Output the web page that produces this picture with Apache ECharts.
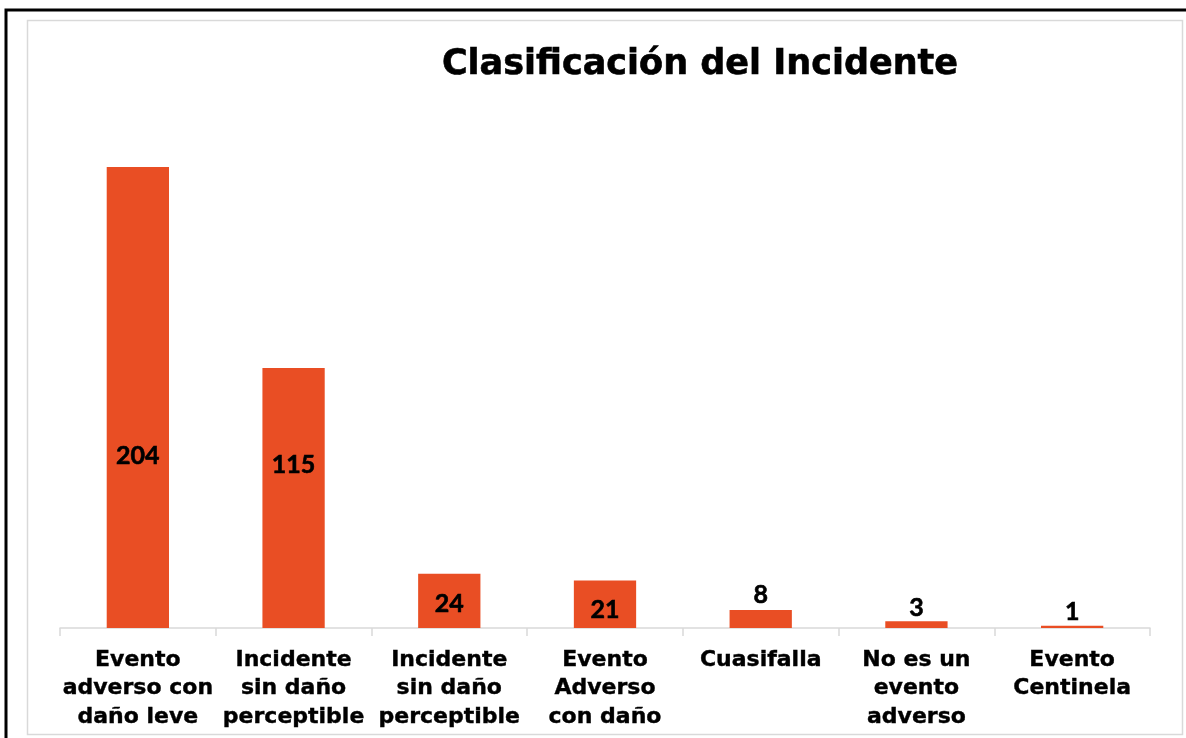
<!DOCTYPE html>
<html>
<head>
<meta charset="utf-8">
<script src="https://cdn.jsdelivr.net/npm/echarts@6/dist/echarts.min.js"></script>
<style>
  html, body { margin: 0; padding: 0; background: #fff; }
  #chart { width: 1186px; height: 738px; }
</style>
</head>
<body>
<div id="chart"></div>
<script>
// datos del gráfico
var categorias = [
  "Evento\nadverso con\ndaño leve",
  "Incidente\nsin daño\nperceptible",
  "Incidente\nsin daño\nperceptible",
  "Evento\nAdverso\ncon daño",
  "Cuasifalla",
  "No es un\nevento\nadverso",
  "Evento\nCentinela"
];
var casos = [204, 115, 24, 21, 8, 3, 1];

var chart = echarts.init(document.getElementById("chart"));

// ajuste manual de las etiquetas (como en el original)
var ajusteEtiqueta = [
  { position: "inside", offset: [0, 58] },
  { position: "inside", offset: [0, -33] },
  { position: "inside", offset: [0, 3] },
  { position: "inside", offset: [0, 6] },
  { position: "top", offset: [0, 3] },
  { position: "top", offset: [0, 4] },
  { position: "top", offset: [0, 4] }
];

var datosBarras = casos.map(function (v, i) {
  return { value: v, label: ajusteEtiqueta[i] };
});

var option = {
  backgroundColor: "#fff",
  animation: false,
  title: {
    text: "Clasificación del Incidente",
    left: 695,
    top: 42,
    textAlign: "center",
    textStyle: {
      fontFamily: "DejaVu Sans",
      fontWeight: "bold",
      fontSize: 35,
      color: "#000",
      textBorderColor: "#000",
      textBorderWidth: 0.6
    }
  },
  graphic: [
    {
      type: "rect",
      shape: { x: 27.5, y: 20.5, width: 1155, height: 714 },
      style: { fill: null, stroke: "#d9d9d9", lineWidth: 1.5 },
      silent: true
    },
    {
      type: "polyline",
      shape: { points: [[6, 738], [6, 10], [1186, 10]] },
      style: { fill: null, stroke: "#000", lineWidth: 3 },
      silent: true
    }
  ],
  grid: {
    left: 60,
    right: 36,
    top: 63,
    bottom: 110,
    containLabel: false
  },
  xAxis: {
    type: "category",
    data: categorias,
    boundaryGap: true,
    axisLine: { show: true, lineStyle: { color: "#d9d9d9", width: 1.5 } },
    axisTick: { show: true, length: 8, lineStyle: { color: "#d9d9d9", width: 1.5 } },
    axisLabel: {
      interval: 0,
      margin: 18,
      color: "#000",
      fontFamily: "DejaVu Sans",
      fontWeight: "bold",
      fontSize: 22,
      lineHeight: 28.5,
      verticalAlign: "top",
      textBorderColor: "#000",
      textBorderWidth: 0.4
    }
  },
  yAxis: {
    type: "value",
    min: 0,
    max: 250,
    show: false,
    splitLine: { show: false }
  },
  series: [
    {
      type: "bar",
      barWidth: "40%",
      data: datosBarras,
      itemStyle: { color: "#e94e24" },
      label: {
        show: true,
        color: "#000",
        fontFamily: "Lato",
        fontWeight: "bold",
        fontSize: 25,
        textBorderColor: "#000",
        textBorderWidth: 0.6
      }
    }
  ]
};

chart.setOption(option);
</script>
</body>
</html>
